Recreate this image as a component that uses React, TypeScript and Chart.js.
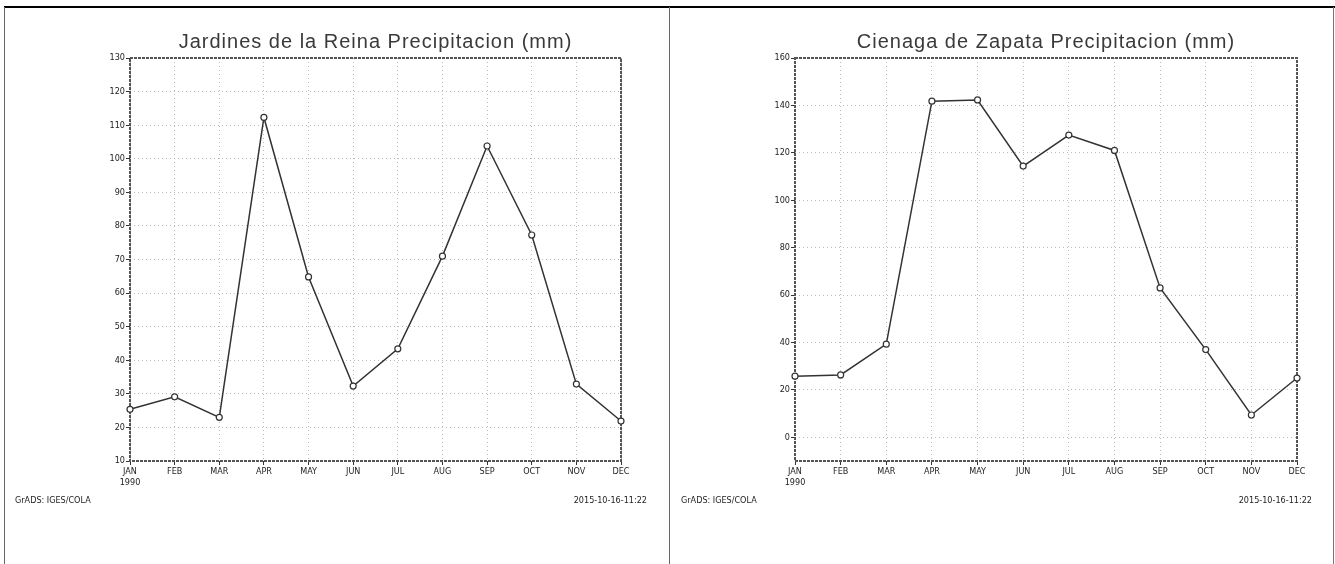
import React, { useEffect, useRef } from "react";
import { Chart, registerables } from "chart.js";

Chart.register(...registerables);

// ---- data ----
const months = ["JAN", "FEB", "MAR", "APR", "MAY", "JUN", "JUL", "AUG", "SEP", "OCT", "NOV", "DEC"];
const yearLabel = "1990";

const reinaTitle = "Jardines de la Reina Precipitacion (mm)";
const reinaValues = [25.4, 29.1, 23.0, 112.3, 64.8, 32.3, 43.4, 71.0, 103.8, 77.3, 32.9, 21.9];
const reinaYTicks = [10, 20, 30, 40, 50, 60, 70, 80, 90, 100, 110, 120, 130];
const reinaYMin = 10;
const reinaYMax = 130;

const zapataTitle = "Cienaga de Zapata Precipitacion (mm)";
const zapataValues = [25.8, 26.3, 39.3, 141.8, 142.3, 114.4, 127.5, 121.0, 63.0, 37.0, 9.4, 25.0];
const zapataYTicks = [0, 20, 40, 60, 80, 100, 120, 140, 160];
const zapataYMin = -10;
const zapataYMax = 160;

const footerLeft = "GrADS: IGES/COLA";
const footerRight = "2015-10-16-11:22";

type PanelProps = {
  title: string;
  values: number[];
  yTicks: number[];
  yMin: number;
  yMax: number;
  width: number;
  padLeft: number;
  padRight: number;
  footerLeftX: number;
  footerRightX: number;
};

const TICK_FONT = { family: "'DejaVu Sans Condensed', 'Liberation Sans', sans-serif", size: 9 };

function Panel(p: PanelProps) {
  const ref = useRef<HTMLCanvasElement | null>(null);
  useEffect(() => {
    if (!ref.current) return;
    const framePlugin = {
      id: "frame",
      beforeDatasetsDraw(chart: any) {
        const { ctx, chartArea } = chart;
        ctx.save();
        ctx.strokeStyle = "#555";
        ctx.lineWidth = 2;
        ctx.setLineDash([3, 1]);
        ctx.strokeRect(chartArea.left, chartArea.top, chartArea.right - chartArea.left, chartArea.bottom - chartArea.top);
        ctx.restore();
      },
      afterDraw(chart: any) {
        const { ctx, chartArea } = chart;
        ctx.save();
        ctx.fillStyle = "#3a3a3a";
        ctx.font = "20px 'Liberation Sans', Arial, sans-serif";
        (ctx as any).letterSpacing = "1px";
        ctx.textAlign = "center";
        ctx.textBaseline = "alphabetic";
        ctx.fillText(p.title, (chartArea.left + chartArea.right) / 2, 48);
        (ctx as any).letterSpacing = "0px";
        ctx.font = "9px 'DejaVu Sans Condensed', 'Liberation Sans Narrow', sans-serif";
        ctx.fillStyle = "#222";
        ctx.textAlign = "left";
        ctx.fillText(footerLeft, p.footerLeftX, 503);
        ctx.textAlign = "right";
        ctx.fillText(footerRight, p.footerRightX, 503);
        ctx.restore();
      },
    };
    const chart = new Chart(ref.current, {
      type: "line",
      data: {
        labels: months.map((m, i) => (i === 0 ? [m, yearLabel] : m)),
        datasets: [
          {
            data: p.values,
            borderColor: "#333",
            borderWidth: 1.5,
            pointRadius: 3,
            pointBorderWidth: 1.2,
            pointBackgroundColor: "#fff",
            pointBorderColor: "#333",
            tension: 0,
            fill: false,
          },
        ],
      },
      options: {
        animation: false,
        responsive: false,
        maintainAspectRatio: false,
        layout: { padding: { left: p.padLeft, right: p.padRight, top: 58, bottom: 73 } },
        plugins: { legend: { display: false }, title: { display: false }, tooltip: { enabled: false } },
        scales: {
          x: {
            type: "category",
            offset: false,
            grid: {
              color: "#bbbbbb",
              lineWidth: 1,
              tickColor: "#333",
              tickLength: 4,
              tickBorderDash: [],
            } as any,
            border: { display: false, dash: [1, 3] },
            ticks: { color: "#222", font: TICK_FONT, padding: 1, maxRotation: 0, autoSkip: false },
            afterFit(s: any) {
              s.height = 30;
            },
          },
          y: {
            type: "linear",
            min: p.yMin,
            max: p.yMax,
            afterBuildTicks(s: any) {
              s.ticks = p.yTicks.map((v) => ({ value: v }));
            },
            grid: {
              color: "#bbbbbb",
              lineWidth: 1,
              tickColor: "#333",
              tickLength: 4,
              tickBorderDash: [],
            } as any,
            border: { display: false, dash: [1, 3] },
            ticks: { color: "#222", font: TICK_FONT, padding: 1 },
            afterFit(s: any) {
              s.width = 30;
            },
          },
        },
      },
      plugins: [framePlugin],
    });
    return () => chart.destroy();
  }, []);
  return <canvas ref={ref} width={p.width} height={564} style={{ display: "block", width: p.width, height: 564 }} />;
}

export default function App() {
  return (
    <div style={{ position: "absolute", left: 0, top: 0, width: 1335, height: 564, background: "#fff", overflow: "hidden" }}>
      <div style={{ position: "absolute", left: 0, top: 0 }}>
        <Panel title={reinaTitle} values={reinaValues} yTicks={reinaYTicks} yMin={reinaYMin} yMax={reinaYMax}
          width={668} padLeft={100} padRight={47} footerLeftX={15} footerRightX={647} />
      </div>
      <div style={{ position: "absolute", left: 670, top: 0 }}>
        <Panel title={zapataTitle} values={zapataValues} yTicks={zapataYTicks} yMin={zapataYMin} yMax={zapataYMax}
          width={664} padLeft={95} padRight={37} footerLeftX={11} footerRightX={642} />
      </div>
      <div style={{ position: "absolute", left: 4, top: 6, width: 1331, height: 2, background: "#000" }} />
      <div style={{ position: "absolute", left: 4, top: 7, width: 1, height: 557, background: "#666" }} />
      <div style={{ position: "absolute", left: 669, top: 7, width: 1, height: 557, background: "#666" }} />
      <div style={{ position: "absolute", left: 1333, top: 7, width: 1, height: 557, background: "#777" }} />
    </div>
  );
}
